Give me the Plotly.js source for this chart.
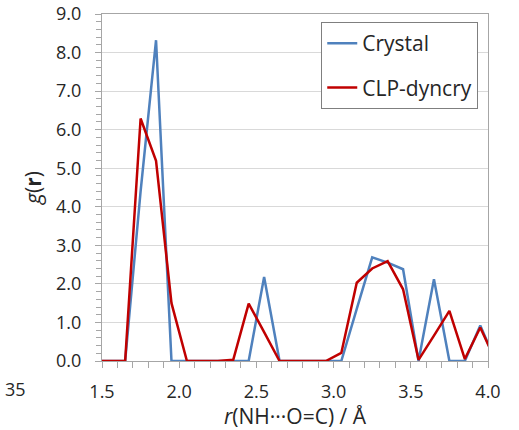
<!DOCTYPE html>
<html>
<head>
<meta charset="utf-8">
<script src="https://cdn.plot.ly/plotly-3.0.1.min.js"></script>
<style>html,body{margin:0;padding:0;background:#fff;}#chart{width:519px;height:430px;}</style>
</head>
<body>
<div id="chart"></div>
<script>
// r / Å (bin centres)
const r = [1.45,1.55,1.65,1.75,1.85,1.95,2.05,2.15,2.25,2.35,2.45,2.55,2.65,2.75,2.85,2.95,3.05,3.15,3.25,3.35,3.45,3.55,3.65,3.75,3.85,3.95,4.05];
// g(r) values
const crystal = [0,0,0,4.4,8.32,0,0,0,0,0,0,2.18,0,0,0,0,0,1.35,2.69,2.55,2.38,0,2.12,0,0,0.92,0];
const clpDyncry = [0,0,0,6.29,5.19,1.5,0,0,0,0.03,1.49,0.75,0,0,0,0,0.21,2.03,2.40,2.59,1.86,0.03,0.66,1.30,0.05,0.87,0];
const seriesNames = ["Crystal","CLP-dyncry"];
const yTickVals = [0,1,2,3,4,5,6,7,8,9];
const yTickText = ["0.0","1.0","2.0","3.0","4.0","5.0","6.0","7.0","8.0","9.0"];
const xTickVals = [1.5,2.0,2.5,3.0,3.5,4.0];
const xTickText = ["1.5","2.0","2.5","3.0","3.5","4.0"];

const FONT = "Open Sans, Noto Sans, sans-serif";
const data = [
  {x: r, y: crystal, name: seriesNames[0], mode: "lines", legendgroup: "a",
   line: {color: "#4F81BD", width: 2.5}},
  {x: r, y: clpDyncry, name: seriesNames[1], mode: "lines", legendgroup: "b",
   line: {color: "#C00000", width: 2.5}}
];
const layout = {
  width: 519, height: 430,
  margin: {l: 102, r: 31, t: 14, b: 69},
  paper_bgcolor: "#fff", plot_bgcolor: "#fff",
  font: {family: FONT, color: "#262626", size: 18},
  showlegend: true,
  legend: {x: 0.568, y: 0.977, xanchor: "left", yanchor: "top",
    bgcolor: "#fff", bordercolor: "#7f7f7f", borderwidth: 1,
    font: {size: 21, family: FONT, color: "#262626"},
    itemwidth: 30, tracegroupgap: 14},
  xaxis: {range: [1.5, 4.0], tickvals: xTickVals, ticktext: xTickText,
    ticks: "outside", ticklen: 6, tickcolor: "#a6a6a6",
    showline: true, linecolor: "#a6a6a6", linewidth: 1, mirror: true,
    showgrid: false, zeroline: false, ticklabelstandoff: 8,
    minor: {dtick: 0.1, tick0: 1.5, ticks: "outside", ticklen: 6, tickcolor: "#a6a6a6", showgrid: false},
    title: {text: "<i>r</i>(NH\u00B7\u00B7\u00B7O=C) / Å", font: {size: 21, family: FONT, color: "#262626"}, standoff: 6}},
  yaxis: {range: [0, 9], tickvals: yTickVals, ticktext: yTickText,
    ticks: "outside", ticklen: 6, tickcolor: "#a6a6a6",
    showline: true, linecolor: "#a6a6a6", linewidth: 1, mirror: true,
    showgrid: true, gridcolor: "#d9d9d9", gridwidth: 1, zeroline: false,
    ticklabelstandoff: 10,
    minor: {dtick: 0.2, tick0: 0, ticks: "outside", ticklen: 5, tickcolor: "#a6a6a6", showgrid: false},
    title: {text: "<i>g</i>(<b>r</b>)", font: {size: 21, family: FONT, color: "#262626"}, standoff: 8}},
  annotations: [
    {text: "35", xref: "paper", yref: "paper", x: -0.257, y: -0.08, xanchor: "left", yanchor: "middle",
     showarrow: false, font: {size: 18, family: FONT, color: "#262626"}}
  ]
};
Plotly.newPlot("chart", data, layout, {displayModeBar: false, staticPlot: true});
</script>
</body>
</html>
